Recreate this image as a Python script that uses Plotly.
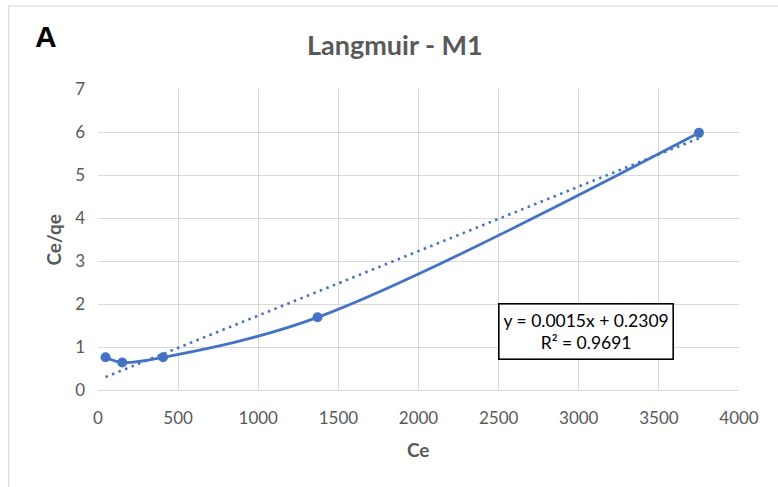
import plotly.graph_objects as go

# Langmuir isotherm data for M1
ce = [47, 151, 406, 1370, 3750]
ce_qe = [0.76, 0.64, 0.76, 1.69, 5.98]

# Linear trendline reported for the data
slope = 0.0015
intercept = 0.2309
r_squared = 0.9691

x_ticks = [0, 500, 1000, 1500, 2000, 2500, 3000, 3500, 4000]
y_ticks = [0, 1, 2, 3, 4, 5, 6, 7]

BLUE = "#4472C4"
GRID = "#D9D9D9"
TEXT = "#595959"
FONT = "Lato"

W, H = 778, 487
L, R, T, B = 97.5, 39, 89, 97
PW, PH = W - L - R, H - T - B


def px(x):
    return (x - L) / PW


def py(y):
    return (H - B - y) / PH


trend_x = [min(ce), max(ce)]
trend_y = [slope * v + intercept for v in trend_x]

fig = go.Figure()
fig.add_trace(go.Scatter(
    x=trend_x, y=trend_y, mode="lines",
    line=dict(color=BLUE, width=2.6, dash="2.5px,4.5px"),
    hoverinfo="skip", showlegend=False,
))
fig.add_trace(go.Scatter(
    x=ce, y=ce_qe, mode="lines+markers",
    line=dict(color=BLUE, width=2.8, shape="spline", smoothing=1.0),
    marker=dict(color=BLUE, size=10),
    showlegend=False,
))

fig.update_layout(
    width=W, height=H,
    margin=dict(l=L, r=R, t=T, b=B, autoexpand=False),
    paper_bgcolor="white", plot_bgcolor="white",
    font=dict(family=FONT, color=TEXT, size=17),
    xaxis=dict(
        range=[0, 4000], tickvals=x_ticks, ticktext=[str(v) for v in x_ticks],
        showgrid=True, gridcolor=GRID, gridwidth=1,
        showline=True, linecolor=GRID, linewidth=1,
        zeroline=False, ticks="", ticklabelstandoff=13,
        tickfont=dict(size=17, color=TEXT, family=FONT),
        fixedrange=True,
    ),
    yaxis=dict(
        range=[0, 7], tickvals=y_ticks, ticktext=[str(v) for v in y_ticks],
        showgrid=True, gridcolor=GRID, gridwidth=1,
        showline=False, zeroline=False, ticks="", ticklabelstandoff=12,
        tickfont=dict(size=17, color=TEXT, family=FONT),
        fixedrange=True,
    ),
    shapes=[
        # chart-area border (left and top edges fall inside the frame)
        dict(type="rect", xref="paper", yref="paper",
             x0=px(8), x1=px(800), y0=py(520), y1=py(6),
             line=dict(color=GRID, width=1.2), fillcolor="rgba(0,0,0,0)",
             layer="below"),
    ],
    annotations=[
        dict(text="<b>A</b>", xref="paper", yref="paper",
             x=px(45), y=py(36), xanchor="center", yanchor="middle",
             showarrow=False,
             font=dict(family="Liberation Sans", size=30, color="black")),
        dict(text="<b>Langmuir - M1</b>", xref="paper", yref="paper",
             x=px(395), y=py(44), xanchor="center", yanchor="middle",
             showarrow=False, font=dict(family=FONT, size=27, color=TEXT)),
        dict(text="<b>Ce/qe</b>", xref="paper", yref="paper",
             x=px(52), y=py(240), xanchor="center", yanchor="middle",
             textangle=-90, showarrow=False,
             font=dict(family=FONT, size=19, color=TEXT)),
        dict(text="<b>Ce</b>", xref="paper", yref="paper",
             x=px(418), y=py(449), xanchor="center", yanchor="middle",
             showarrow=False, font=dict(family=FONT, size=19, color=TEXT)),
        dict(text=f"y = {slope:.4f}x + {intercept:.4f}<br>R² = {r_squared:.4f}",
             xref="paper", yref="paper",
             x=px(585.5), y=py(331.5), xanchor="center", yanchor="middle",
             showarrow=False, align="center",
             width=171, height=52,
             bordercolor="black", borderwidth=1.6, borderpad=1,
             bgcolor="white",
             font=dict(family=FONT, size=17.5, color="black")),
    ],
)

fig.write_html("out.html")
